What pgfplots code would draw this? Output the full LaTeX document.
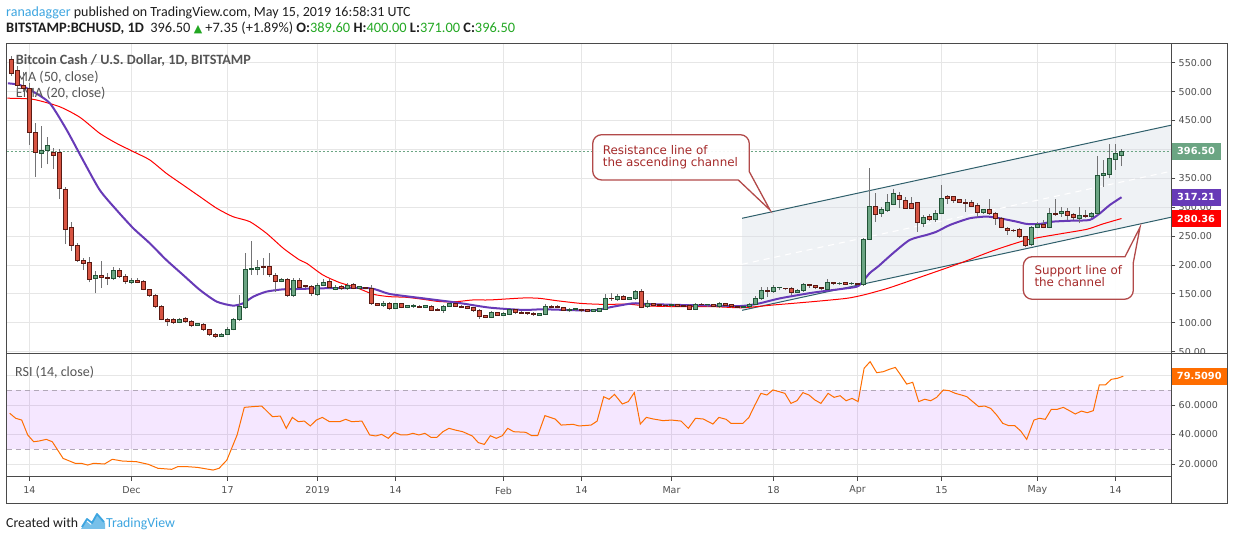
\documentclass[border=0pt]{standalone}
\usepackage{fontspec}
\usepackage{pgfplots}
\usepackage{pgfplotstable}
\pgfplotsset{compat=1.18}
\setmainfont{DejaVu Sans}
\newfontfamily\calib{Carlito}
\newfontfamily\dvs{DejaVu Sans}
\definecolor{upc}{HTML}{6BA583}
\definecolor{upb}{HTML}{225437}
\definecolor{dnc}{HTML}{D75442}
\definecolor{dnb}{HTML}{5B1A13}
\definecolor{wickc}{HTML}{737375}
\definecolor{emac}{HTML}{673AB7}
\definecolor{gridc}{HTML}{E6E6E6}
\definecolor{framec}{HTML}{4A4A4A}
\definecolor{lblc}{HTML}{4F4F4F}
\definecolor{chanc}{HTML}{2F5F6B}
\definecolor{callc}{HTML}{A52A2A}
\definecolor{rsic}{HTML}{FF6D00}
\definecolor{tvblue}{HTML}{3DA5E0}
\definecolor{valg}{HTML}{22A722}
\definecolor{txtc}{HTML}{1E1E1E}
\definecolor{legc}{HTML}{555555}
\definecolor{bandc}{RGB}{153,21,255}
\definecolor{chfill}{HTML}{D8DEE6}

\pgfdeclareplotmark{candleup}{%
  \pgfsetlinewidth{0.9bp}%
  \pgfsetstrokecolor{wickc}%
  \pgfpathmoveto{\pgfpoint{0pt}{\vL*0.578bp}}%
  \pgfpathlineto{\pgfpoint{0pt}{\vH*0.578bp}}%
  \pgfusepathqstroke
  \pgfsetstrokecolor{upb}\pgfsetfillcolor{upc}%
  \pgfpathrectanglecorners{\pgfpoint{-1.75bp}{0pt}}{\pgfpoint{1.75bp}{\vC*0.578bp}}%
  \pgfusepathqfillstroke}
\pgfdeclareplotmark{candledn}{%
  \pgfsetlinewidth{0.9bp}%
  \pgfsetstrokecolor{wickc}%
  \pgfpathmoveto{\pgfpoint{0pt}{\vL*0.578bp}}%
  \pgfpathlineto{\pgfpoint{0pt}{\vH*0.578bp}}%
  \pgfusepathqstroke
  \pgfsetstrokecolor{dnb}\pgfsetfillcolor{dnc}%
  \pgfpathrectanglecorners{\pgfpoint{-1.75bp}{0pt}}{\pgfpoint{1.75bp}{\vC*0.578bp}}%
  \pgfusepathqfillstroke}

\pgfplotstableread{
d o h l c
-3 555 562 527 531
-2 537 545 500 510
-1 511 534 500 506
0 506 514 408 430
1 430 445 353 395
2 393 440 368 399
3 398 422 374 406
4 394 402 366 390
5 395 400 314 333
6 331 335 236 262
7 265 275 224 234
8 234 238 205 207
9 207 212 191 203
10 205 213 170 175
11 176 189 151 182
12 182 207 160 179
13 179 186 165 176
14 176 197 174 191
15 191 195 178 180
16 181 185 167 172
17 170 177 167 173
18 174 178 168 170
19 171 174 156 158
20 158 159 145 147
21 148 150 125 128
22 129 131 104 106
23 106 109 95 102
24 106 109 98 100
25 100 109 99 106
26 108 110 100 102
27 102 104 92 95
28 95.5 99 94 98
29 97.5 99 86 88
30 88 90 77 79.5
31 80.5 83 74.5 76
32 76 83 75 80.5
33 79.5 92 78 88.7
34 88.7 109 87 105
35 105 148 103 128
36 127 220 123 192.5
37 191.5 241 183 193.7
38 192.5 209 182 196
39 197 212 182 196
40 198 220 180 183
41 182 186 154 172
42 172 177 170 175
43 175 178 145 147
44 147 178 144 174
45 174 178 160 161.5
46 164.3 166 160 162
47 162.5 165 146 151
48 149 168 147 165
49 164.5 175 163 170.5
50 172 176 158 161
51 158.5 165 156 161
52 162 165 157 159.5
53 159 169 157 165
54 166.5 168 158 159
55 160 163 158 162
56 161 162 158 159.5
57 159.7 165 131 133
58 133.7 135 129 130.2
59 129.6 137 128 133.7
60 133.7 136 122 124.5
61 125 135 123 134.3
62 133.7 135 125 126.2
63 126.8 131 125 129.6
64 127.4 132 126 130.2
65 129.1 130 126 126.8
66 126.8 131 125 129.6
67 128.5 130 121 121.6
68 123.9 125 120 121.6
69 121.6 131 117 129.1
70 128.5 134 127 132.6
71 132.6 134 127 128.5
72 129 130 126 127
73 127.9 129 123 124.5
74 126.2 127 119 121
75 121.6 123 107 110.6
76 112.4 114 108 108.9
77 109.5 120 108 118.7
78 117.5 119 112 113
79 113 118 111 116.4
80 114.7 124 113 122.2
81 122.2 124 116 117.5
82 118.7 120 116 117
83 118 119 114 115.5
84 117 118 112 114
85 113 117 112 115.8
86 114.7 133 113 129.1
87 129.1 131 125 126.2
88 128.5 130 125 126.2
89 126.8 128 120 121.6
90 121 125 119 123.3
91 122.2 125.5 120 124.5
92 123.3 124 119 120.5
93 123 124 118 119.5
94 120 124 119 122.8
95 119.9 126 118 124.5
96 123.3 150 122 142.3
97 142.5 151 138 142
98 140.6 149 138 146.4
99 146.4 148 139 140.6
100 140.6 145 139 143.5
101 142.3 157 140 153.9
102 155 159 125 126.8
103 127.9 139.5 126 133.7
104 133 134 129 130.5
105 131 133 129 130
106 130.5 132 128 129.5
107 130 132 128 131
108 131 132 128 129
109 130 131 127 129
110 130.2 132 122 123.3
111 123.3 134 122 132
112 132.5 134 130 131
113 131 133 128 132
114 131.5 132 127 128.5
115 127.4 136 126 133.7
116 133.7 135 128 129.6
117 131 132 126 127.5
118 128.5 129 125 127
119 127 129 125 128
120 127.9 135 126 132
121 132 147 131 142.3
122 142.3 162 140 155.6
123 156.7 162 144 153.9
124 153.9 166 152 161.4
125 161 162 156 161.5
126 160 161 156 159.5
127 159.7 162 148 152.7
128 152.7 158 151 156.7
129 155.6 169 154 166.6
130 166.6 167.5 161 164.3
131 164 165 158 161.5
132 161.5 162 157 159.7
133 157.9 175 156 169.5
134 170 171 165 167.5
135 167.5 170 166 168.3
136 170 171 165 167
137 167.5 170 166 168.5
138 168.5 169.5 165 166.5
139 166.5 246 164 244.4
140 244.4 367 243 302.1
141 302.1 324 275 287.7
142 289.4 301 283 295.2
143 294.6 323 292 308.4
144 305 332 303 322.9
145 321.1 327 298 312.5
146 310.8 318 297 298
147 307.3 317 296 298
148 307.9 308.5 257.7 273.3
149 272.1 286.5 266.3 282.5
150 284.8 289 276 279
151 279 295 275 290
152 289.4 338.5 288.3 315.9
153 318.2 321 305.5 315.4
154 318.8 320 308 311.9
155 312.5 315 306.7 307.9
156 309 315 292.3 306.7
157 308.4 312.5 301 301.5
158 302.7 306.7 283.7 290.6
159 290.6 297 288 295.2
160 295.2 313.6 286.5 289.4
161 290 292.3 269.2 280.8
162 280.8 283.7 263.5 265.2
163 263.5 266.3 252 259.4
164 260.5 263 257 260
165 260.6 263.5 247.3 249
166 249 250.2 230.6 233.5
167 235.8 267.5 232.9 265.2
168 265.2 275 263.5 270.4
169 270.4 278 263.5 265.2
170 265.2 298 263.5 288.3
171 290 313.6 284.8 287.1
172 288.3 301 283.7 292.3
173 292.3 298.1 277.9 285.4
174 287 290 278 281.5
175 280.8 301 272.1 286.5
176 286.5 295 280.8 283.7
177 284.8 292.3 280.8 289.4
178 288.3 388.6 287 355.7
179 354.6 381.7 335.5 358.6
180 356.9 409.4 350 385.1
181 382.9 409.4 364.4 392.1
182 389.6 400 371 396.5
}\candles

\begin{document}
\begin{tikzpicture}[x=1bp,y=1bp]
\path[use as bounding box] (0,0) rectangle (1234,541);

% header
\node[anchor=base west, inner sep=0pt, font=\calib\fontsize{14bp}{16bp}\selectfont, text=txtc] at (6,524.3)
  {{\color{tvblue}ranadagger} published on TradingView.com, May 15, 2019 16:58:31 UTC};
\node[anchor=base west, inner sep=0pt, font=\calib\fontsize{14.4bp}{16bp}\selectfont, text=txtc] at (6,508.3)
  {{\bfseries BITSTAMP:BCHUSD, 1D}\ \ 396.50 {\dvs\fontsize{11bp}{13bp}\selectfont\color{valg}▲} +7.35 (+1.89\%) {\bfseries O:}{\color{valg}389.60} {\bfseries H:}{\color{valg}400.00} {\bfseries L:}{\color{valg}371.00} {\bfseries C:}{\color{valg}396.50}};

% ===== price panel =====
\begin{axis}[
  at={(6.7bp,187bp)}, anchor=south west,
  x=6bp, y=0.578bp,
  xmin=-3.8, xmax=190.3, ymin=46, ymax=583.6,
  clip=false,
  axis line style={draw=none},
  grid=major, major grid style={gridc, line width=0.9bp},
  xtick={0,17,33,48,61,79,92,107,124,138,152,168,181},
  xticklabels={}, xtick style={draw=none},
  ytick={50,100,...,550},
  yticklabels={50.00,100.00,150.00,200.00,250.00,300.00,350.00,,450.00,500.00,550.00},
  ytick pos=right, yticklabel pos=right,
  tick align=outside, major tick length=4bp,
  ytick style={framec, line width=0.9bp},
  yticklabel style={font=\dvs\fontsize{9.5bp}{11bp}\selectfont, text=lblc, anchor=west, inner sep=0pt, xshift=3.2bp},
  unbounded coords=discard,
]
% channel
\addplot[draw=none, fill=chfill, fill opacity=0.4] coordinates {(118.77,280.8) (190.3,441.9) (190.3,282.7) (118.77,121.6)} -- cycle;
\addplot[white, line width=1bp, dash pattern=on 6bp off 5bp] coordinates {(118.77,201.2) (190.3,362.3)};
\addplot[chanc, line width=1bp] coordinates {(118.77,280.8) (190.3,441.9)};
\addplot[chanc, line width=1bp] coordinates {(118.77,121.6) (190.3,282.7)};
% last price line
\addplot[upc, line width=1bp, dash pattern=on 2bp off 2bp] coordinates {(-3.8,396.5) (190.3,396.5)};
% candles
\addplot[only marks, mark=candledn,
  visualization depends on={\thisrow{h}-\thisrow{o}\as\vH},
  visualization depends on={\thisrow{l}-\thisrow{o}\as\vL},
  visualization depends on={\thisrow{c}-\thisrow{o}\as\vC}]
  table[x=d, y expr={\thisrow{c}<\thisrow{o} ? \thisrow{o} : nan}] {\candles};
\addplot[only marks, mark=candleup,
  visualization depends on={\thisrow{h}-\thisrow{o}\as\vH},
  visualization depends on={\thisrow{l}-\thisrow{o}\as\vL},
  visualization depends on={\thisrow{c}-\thisrow{o}\as\vC}]
  table[x=d, y expr={\thisrow{c}>=\thisrow{o} ? \thisrow{o} : nan}] {\candles};
% MA 50 (red)
\addplot[red, line width=1bp, smooth, tension=0.4] coordinates {
(-3.7,488.5) (0.6,486.6) (5,473.9) (8.4,455.5) (11.7,427.8) (14.5,410.5) (17.3,396.1) (20.05,381.7) (22.8,358.6) (25.6,338.4) (28.4,318.2) (31.2,298.1) (33.9,283.6) (36.7,275) (39.5,254.8) (42.3,228.9) (45,208.7) (46.2,202.9) (48.9,182.7) (51.7,169.5) (54.5,160.8) (57.3,149.3) (60,145.2) (62.8,144.1) (65.6,140.6) (68.4,136.6) (71.2,136.6) (73.9,139.5) (76.7,139.5) (82.3,142.9) (85,142.3) (87.8,138.3) (91.7,133.7) (95.1,132) (100,132) (102.8,129.1) (108.4,127.9) (114,127.9) (118.8,126) (124,130.8) (130.6,136.6) (136.2,142.3) (139,148.1) (141.7,155.6) (143.9,162.5) (149.5,182.7) (155.05,202.9) (160.6,224.8) (166.2,243.3) (171.7,253.7) (176.2,261.7) (178.9,271) (182,280.36)};
% EMA 20 (purple)
\addplot[emac, line width=2bp, smooth, tension=0.4] coordinates {
(-3.6,514.3) (-1.6,511.4) (0.6,499.9) (3.4,479.7) (6.2,433.6) (8.9,381.7) (11.7,329.8) (14.5,295.2) (17.3,263.5) (20.05,237.5) (22.8,208.7) (25.6,182.7) (28.4,156.8) (31.2,136.6) (33.9,129.7) (35.6,133.7) (37.3,145.2) (39.5,153.9) (42.3,157.9) (45.05,158.5) (48.9,159.7) (56.7,159.7) (60,149.9) (65.6,142.3) (71.2,134.9) (76.7,126.2) (82.3,122.2) (85.6,123.3) (91.7,121.5) (94.5,122.2) (97.3,127.9) (100.6,133.7) (102.8,132.6) (108.4,130.8) (114,129.7) (118.8,129.1) (121.7,133.7) (125.1,142.3) (130.6,152.2) (136.2,159.7) (138.2,164) (140,185.6) (141.5,198) (143.9,220.2) (146.7,243.3) (149.5,251.9) (151.2,257.7) (153.4,269.2) (156.7,280.8) (159.5,283.7) (161.7,280.8) (164.5,275) (166.2,271) (168.4,271) (170.6,275) (173.9,276.7) (176.7,277.9) (178.4,289.4) (180.05,303.8) (182,317.21)};
% legend text
\node[anchor=base west, inner sep=0pt, text=legc, font=\calib\bfseries\fontsize{14.2bp}{16bp}\selectfont] at (rel axis cs:0,0) [xshift=9bp, yshift=289bp] {Bitcoin Cash / U.S. Dollar, 1D, BITSTAMP};
\node[anchor=base west, inner sep=0pt, text=legc, font=\calib\fontsize{14.2bp}{16bp}\selectfont] at (rel axis cs:0,0) [xshift=9bp, yshift=272.3bp] {MA (50, close)};
\node[anchor=base west, inner sep=0pt, text=legc, font=\calib\fontsize{14.2bp}{16bp}\selectfont] at (rel axis cs:0,0) [xshift=9bp, yshift=256.3bp] {EMA (20, close)};
% price labels
\node[fill=upc, text=white, font=\dvs\bfseries\fontsize{9.8bp}{11bp}\selectfont, anchor=west, minimum width=49bp, minimum height=17.3bp, inner sep=0pt] at (axis cs:190.3,396.5) {396.50};
\node[fill=emac, text=white, font=\dvs\bfseries\fontsize{9.8bp}{11bp}\selectfont, anchor=west, minimum width=49bp, minimum height=16.7bp, inner sep=0pt] at (axis cs:190.3,317.21) {317.21};
\node[fill=red, text=white, font=\dvs\bfseries\fontsize{9.8bp}{11bp}\selectfont, anchor=west, minimum width=49bp, minimum height=16.7bp, inner sep=0pt] at (axis cs:190.3,280.36) {280.36};
\end{axis}

% clip the partial 50.00 label
\fill[white] (1172.5,175) rectangle (1226.8,186.5);

% ===== RSI panel =====
\begin{axis}[
  at={(6.7bp,64bp)}, anchor=south west,
  x=6bp, y=1.475bp,
  xmin=-3.8, xmax=190.3, ymin=11.2, ymax=94.4,
  clip=false,
  axis line style={draw=none},
  grid=major, major grid style={gridc, line width=0.9bp},
  xtick={0,17,33,48,61,79,92,107,124,138,152,168,181},
  xticklabels={14,Dec,17,2019,14,Feb,14,Mar,18,Apr,15,May,14},
  xtick pos=bottom, ytick pos=right, yticklabel pos=right,
  tick align=outside, major tick length=4bp,
  tick style={framec, line width=0.9bp},
  ytick={20,40,60,80},
  yticklabels={20.0000,40.0000,60.0000,},
  yticklabel style={font=\dvs\fontsize{9.5bp}{11bp}\selectfont, text=lblc, anchor=west, inner sep=0pt, xshift=3.2bp},
  xticklabel style={font=\dvs\fontsize{9.5bp}{11bp}\selectfont, text=lblc, anchor=center, inner sep=0pt, yshift=-9.5bp},
]
\addplot[draw=none, fill=bandc, fill opacity=0.1] coordinates {(-3.8,30) (190.3,30) (190.3,70) (-3.8,70)} -- cycle;
\addplot[color={rgb,255:red,178;green,168;blue,184}, line width=1bp, dash pattern=on 5bp off 4bp] coordinates {(-3.8,70) (190.3,70)};
\addplot[color={rgb,255:red,178;green,168;blue,184}, line width=1bp, dash pattern=on 5bp off 4bp] coordinates {(-3.8,30) (190.3,30)};
\addplot[rsic, line width=1bp] coordinates {
(-3.3,54.4) (-2.3,51) (-1.3,49.8) (-0.3,39.7) (0.7,35.1) (1.6,35.6) (2.8,36.7) (3.8,35.1) (5.6,23.8) (7.6,20.5) (8.6,20.5) (9.7,19.3) (10.7,20.5) (12.5,20) (13.8,23.2) (15.5,22) (17.8,21.6) (19.8,19.8) (21.4,17.1) (23.7,16.4) (24.7,18.2) (26.3,18.2) (28,17.7) (30.6,15.9) (31.6,17.1) (32.9,22.7) (34.6,39.7) (35.8,58.4) (37.2,58.9) (38.7,59.3) (40.5,52.1) (41.8,52.5) (42.8,44.2) (43.8,51.6) (44.8,48.7) (45.8,49.1) (46.8,45.8) (47.8,49.8) (48.8,51.6) (50,48.7) (51.7,48.7) (52.7,50.3) (53.7,48.7) (55.4,49.1) (56.7,39.7) (57.7,39) (58.7,40.1) (59.8,37.4) (60.8,41.5) (61.9,39.7) (62.9,39.7) (63.9,40.8) (64.9,39.7) (65.9,40.8) (66.9,38.1) (67.9,38.1) (68.9,41.9) (69.9,44.2) (70.9,43.1) (72.2,41.9) (73.8,39) (74.8,34.5) (75.8,33.3) (76.8,39.2) (77.8,37.4) (78.8,39.2) (79.7,44.2) (80.7,41.9) (82.7,41.5) (83.7,39.2) (84.7,39.2) (85.9,52.8) (87.6,50.5) (88.6,46.4) (90.6,46.9) (91.6,45.8) (93.6,46.4) (94.6,49.1) (95.7,65.6) (96.6,63.9) (97.5,67.2) (98.8,60.7) (99.8,62.3) (100.8,68.4) (101.8,47.1) (102.8,51.6) (104,50.5) (105.6,49.4) (107,49.8) (108.6,49.1) (109.8,44.2) (111,51) (112.3,50.5) (113.9,47.1) (114.9,51.6) (116.1,50.3) (116.9,47.6) (118.9,47.6) (119.9,51.6) (120.9,60) (121.9,67.9) (122.9,66.8) (123.9,70.2) (124.9,69.1) (125.9,67.9) (126.9,61.1) (127.9,62.9) (128.9,68.4) (129.9,66.8) (130.9,63.4) (131.9,61.1) (133.1,67.9) (134.1,65.2) (135.1,66.3) (136.1,62.9) (137.1,64.5) (138.1,62.3) (139.1,84.9) (140.1,89.4) (141.2,81.9) (142.3,82.6) (143.3,84.2) (144.3,85.5) (145.2,80.3) (146.2,74.2) (147.2,75.4) (148.2,62.3) (149.2,63.9) (150.2,62.9) (151.2,65.2) (152.3,70.2) (153.3,69.7) (154.3,67.9) (155.3,66.8) (156.2,65.7) (157.2,62.3) (158.2,58.9) (159.2,59.3) (160.2,57.7) (161.2,53.2) (162.2,47.6) (163.2,46) (164.2,46) (165.2,42.4) (166.2,36.7) (167.4,49.8) (168.3,51) (169.3,50.3) (170.3,57.1) (171.3,57.1) (172.3,58.4) (173.3,56.2) (174.3,53.9) (175.3,55.9) (176.3,54.8) (177.3,56.2) (178.3,73.6) (179.3,73.6) (180.3,77.4) (181.3,78.1) (182.3,79.509)};
\node[anchor=base west, inner sep=0pt, text=legc, font=\calib\fontsize{14bp}{16bp}\selectfont] at (rel axis cs:0,0) [xshift=8.3bp, yshift=100.5bp] {RSI (14, close)};
\node[fill=rsic, text=white, font=\dvs\bfseries\fontsize{9.8bp}{11bp}\selectfont, anchor=west, minimum width=55.5bp, minimum height=16.7bp, inner sep=0pt] at (axis cs:190.3,79.509) {79.5090};
\end{axis}

% frame
\draw[framec, line width=1bp] (6.7,37) rectangle (1227.5,497.7);
\draw[framec, line width=1bp] (1171.5,37) -- (1171.5,497.7);
\draw[framec, line width=1bp] (6.7,187) -- (1227.5,187);
\draw[framec, line width=1bp] (6.7,64) -- (1171.5,64);

% callouts
\draw[callc!85!white, line width=1.3bp, fill=white, fill opacity=0.92]
  (770,331) -- (738.3,361) [rounded corners=9bp] -- (592.7,361) -- (592.7,406.3) -- (749.3,406.3) [sharp corners] -- (749.3,369.3) -- cycle;
\node[anchor=base west, inner sep=0pt, text=callc, font=\dvs\fontsize{11.9bp}{13bp}\selectfont] at (602.7,386) {Resistance line of};
\node[anchor=base west, inner sep=0pt, text=callc, font=\dvs\fontsize{11.9bp}{13bp}\selectfont] at (602.7,374.3) {the ascending channel};
\draw[callc!85!white, line width=1.3bp, fill=white, fill opacity=0.92]
  (1140,313.7) -- (1125,284.3) [rounded corners=9bp] -- (1023.3,284.3) -- (1023.3,241.7) -- (1133.3,241.7) [sharp corners] -- (1133.3,278.3) -- cycle;
\node[anchor=base west, inner sep=0pt, text=callc, font=\dvs\fontsize{11.9bp}{13bp}\selectfont] at (1034.3,266.3) {Support line of};
\node[anchor=base west, inner sep=0pt, text=callc, font=\dvs\fontsize{11.9bp}{13bp}\selectfont] at (1034.3,254.7) {the channel};

% footer
\node[anchor=base west, inner sep=0pt, text=txtc, font=\calib\fontsize{13.8bp}{15bp}\selectfont] at (6,13) {Created with};
\fill[tvblue!70!white] (81,12) -- (86,20) -- (91,16) -- (97,26) -- (105,18) -- (105,12) -- cycle;
\draw[tvblue, line width=1.8bp, line join=round] (82,14) -- (87,22) -- (92,18) -- (97,27) -- (104,19);
\node[anchor=base west, inner sep=0pt, text=tvblue, font=\calib\fontsize{13.8bp}{15bp}\selectfont] at (106,13) {TradingView};
\end{tikzpicture}
\end{document}
